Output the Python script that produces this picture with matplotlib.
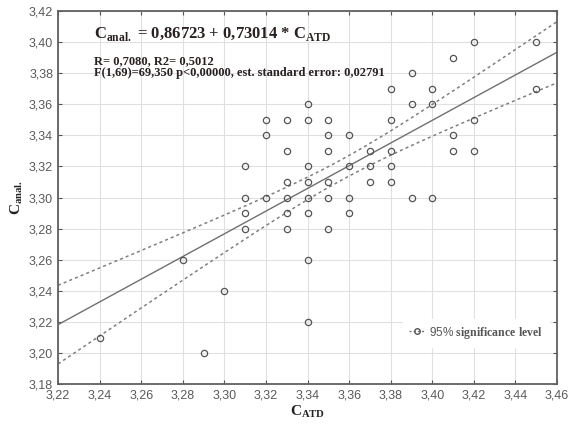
import numpy as np
import matplotlib.pyplot as plt
from matplotlib.lines import Line2D
from matplotlib.ticker import FuncFormatter

plt.rcParams['mathtext.fontset'] = 'custom'
plt.rcParams['mathtext.rm'] = 'Liberation Serif'
plt.rcParams['mathtext.bf'] = 'Liberation Serif:bold'

# measured pairs (C_ATD, C_anal.)
x_atd = [3.24, 3.28, 3.29, 3.30,
         3.31, 3.31, 3.31, 3.31,
         3.32, 3.32, 3.32,
         3.33, 3.33, 3.33, 3.33, 3.33, 3.33,
         3.34, 3.34, 3.34, 3.34, 3.34, 3.34, 3.34, 3.34,
         3.35, 3.35, 3.35, 3.35, 3.35, 3.35,
         3.36, 3.36, 3.36, 3.36,
         3.37, 3.37, 3.37,
         3.38, 3.38, 3.38, 3.38, 3.38,
         3.39, 3.39, 3.39,
         3.40, 3.40, 3.40,
         3.41, 3.41, 3.41,
         3.42, 3.42, 3.42,
         3.45, 3.45]
c_anal = [3.21, 3.26, 3.20, 3.24,
          3.32, 3.30, 3.29, 3.28,
          3.35, 3.34, 3.30,
          3.35, 3.33, 3.31, 3.30, 3.29, 3.28,
          3.36, 3.35, 3.32, 3.31, 3.30, 3.29, 3.26, 3.22,
          3.35, 3.34, 3.33, 3.31, 3.30, 3.28,
          3.34, 3.32, 3.30, 3.29,
          3.33, 3.32, 3.31,
          3.37, 3.35, 3.33, 3.32, 3.31,
          3.38, 3.36, 3.30,
          3.37, 3.36, 3.30,
          3.39, 3.34, 3.33,
          3.40, 3.35, 3.33,
          3.40, 3.37]

# regression results
intercept = 0.86723
slope = 0.73014
r_val, r2_val = 0.7080, 0.5012
f_val, df1, df2 = 69.350, 1, 69
std_err = 0.02791
n_obs = df1 + df2 + 1
t_crit = 1.995

x_ticks = np.arange(3.22, 3.461, 0.02)
y_ticks = np.arange(3.18, 3.421, 0.02)


def dec(v, nd):
    return ('%.*f' % (nd, v)).replace('.', ',')


xa = np.array(x_atd)
x_mean = xa.mean()
sxx = ((xa - x_mean) ** 2).sum()
xs = np.linspace(3.22, 3.46, 200)
fit = intercept + slope * xs
half = t_crit * std_err * np.sqrt(1.0 / n_obs + (xs - x_mean) ** 2 / sxx)

fig = plt.figure(figsize=(5.69, 4.24), dpi=100)
ax = fig.add_axes([0.102, 0.094, 0.877, 0.880])

ax.grid(True, color='#e0e0e0', lw=0.8, zorder=0)
ax.plot(xs, fit, color='#707070', lw=1.0, zorder=2)
ax.plot(xs, fit + half, color='#808080', lw=1.1, ls=(0, (2, 2)), zorder=2)
ax.plot(xs, fit - half, color='#808080', lw=1.1, ls=(0, (2, 2)), zorder=2)
ax.plot(x_atd, c_anal, ls='none', marker='o', ms=4.5, mfc='none',
        mec='#555555', mew=0.9, zorder=3)

ax.set_xlim(3.22, 3.46)
ax.set_ylim(3.18, 3.42)
ax.set_xticks(x_ticks)
ax.set_yticks(y_ticks)
comma = FuncFormatter(lambda v, p: dec(v, 2))
ax.xaxis.set_major_formatter(comma)
ax.yaxis.set_major_formatter(comma)
ax.tick_params(direction='in', length=3, width=0.8, color='#555555',
               top=True, right=True, labelsize=9, labelcolor='#5a5a5a')
for lab in ax.get_xticklabels() + ax.get_yticklabels():
    lab.set_family('Liberation Sans')
for s in ax.spines.values():
    s.set_color('#606060')
    s.set_linewidth(1.3)

ax.set_xlabel(r'$\mathbf{C}_{\mathbf{ATD}}$', fontsize=11, labelpad=2, color='#222222')
ax.set_ylabel(r'$\mathbf{C}_{\mathbf{anal.}}$', fontsize=11, labelpad=3, color='#222222')

serif = dict(family='Liberation Serif', weight='bold', color='#2a2020',
             transform=ax.transAxes, va='baseline')
ax.text(0.072, 0.928,
        r'$\mathbf{C}_{\mathbf{anal.}}$' + ' = %s + %s * ' % (dec(intercept, 5), dec(slope, 5))
        + r'$\mathbf{C}_{\mathbf{ATD}}$',
        fontsize=12, **serif)
ax.text(0.072, 0.857, 'R= %s, R2= %s' % (dec(r_val, 4), dec(r2_val, 4)),
        fontsize=9, **serif)
ax.text(0.072, 0.825,
        'F(%d,%d)=%s p<0,00000, est. standard error: %s' % (
            df1, df2, dec(f_val, 3), dec(std_err, 5)),
        fontsize=9, **serif)

handle = Line2D([], [], color='#777777', ls=(0, (1.5, 1.5)), lw=1.0,
                marker='o', ms=4, mfc='none', mec='#555555')
leg = ax.legend([handle], [r'95% $\mathbf{significance\ level}$'],
                loc='lower right', bbox_to_anchor=(0.995, 0.085),
                frameon=True, fancybox=False, edgecolor='white',
                framealpha=1.0, handlelength=1.4, handletextpad=0.3,
                borderpad=0.5, prop={'family': 'Liberation Sans', 'size': 8.5})
leg.get_texts()[0].set_color('#555555')

fig.savefig('out.png', dpi=100)
